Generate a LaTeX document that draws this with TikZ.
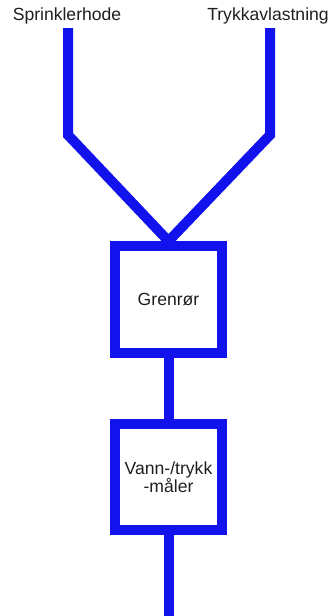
\documentclass[tikz,border=0pt]{standalone}
\usepackage{fontspec}
\setmainfont{Liberation Sans}
\usepackage{tikz}
\usepackage{xcolor}
\definecolor{pipeblue}{RGB}{18,18,236}
\definecolor{labelgray}{RGB}{30,30,30}

\begin{document}
\begin{tikzpicture}[x=0.03cm,y=-0.03cm,
  pipe/.style={pipeblue,line width=0.3cm},
  unitbox/.style={draw=pipeblue,line width=0.3cm,minimum width=3.2cm,minimum height=3.2cm,
    inner sep=0pt,align=center,text=labelgray,font=\fontsize{15}{15.5}\selectfont},
  tag/.style={text=labelgray,inner sep=0pt,font=\fontsize{15}{18}\selectfont}]
\useasboundingbox (0,0) rectangle (334,616);
\node[tag] (sprinkler) at (67,16) {Sprinklerhode};
\node[tag] (relief) at (268,16) {Trykkavlastning};
\node[unitbox] (grenror) at (168.5,299.5) {Grenrør};
\node[unitbox] (maler) at (168.5,477) {Vann-/trykk\\-måler};
\coordinate (sp top) at (68,28);
\coordinate (sp bend) at (68,135);
\coordinate (tr top) at (270,28);
\coordinate (tr bend) at (270,135);
\coordinate (outlet) at (168.5,616);
\draw[pipe] (sp top) -- (sp bend) -- (grenror.north);
\draw[pipe] (tr top) -- (tr bend) -- (grenror.north);
\draw[pipe] (grenror.south) -- (maler.north);
\draw[pipe] (maler.south) -- (outlet);
\end{tikzpicture}
\end{document}
